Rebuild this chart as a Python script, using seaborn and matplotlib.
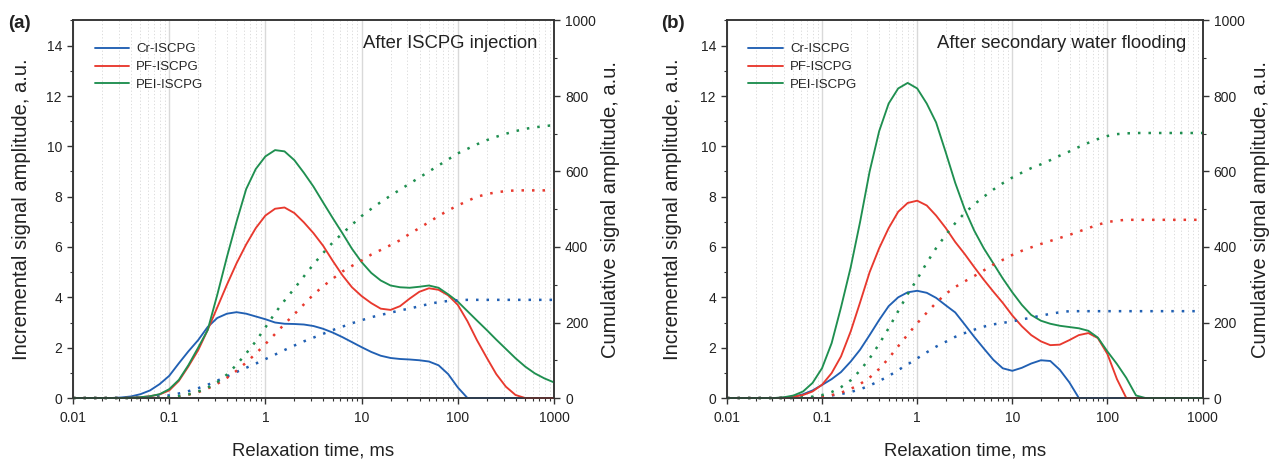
import numpy as np
import matplotlib
matplotlib.use('Agg')
import matplotlib.pyplot as plt
import seaborn as sns
from matplotlib.ticker import LogLocator, MultipleLocator, FuncFormatter

# relaxation time grid, ms
t_ms = [0.01, 0.0126, 0.0158, 0.02, 0.0251, 0.0316, 0.0398, 0.0501, 0.0631, 0.0794,
        0.1, 0.126, 0.158, 0.2, 0.251, 0.316, 0.398, 0.501, 0.631, 0.794,
        1, 1.26, 1.58, 2, 2.51, 3.16, 3.98, 5.01, 6.31, 7.94,
        10, 12.6, 15.8, 20, 25.1, 31.6, 39.8, 50.1, 63.1, 79.4,
        100, 126, 158, 200, 251, 316, 398, 501, 631, 794, 1000]

series_names = ['Cr-ISCPG', 'PF-ISCPG', 'PEI-ISCPG']

# (a) After ISCPG injection - incremental
a_cr = [0, 0, 0, 0, 0, 0.02, 0.06, 0.15, 0.3, 0.55,
        0.88, 1.38, 1.85, 2.3, 2.82, 3.18, 3.35, 3.41, 3.35, 3.24,
        3.13, 3.0, 2.95, 2.94, 2.92, 2.86, 2.75, 2.6, 2.42, 2.22,
        2.02, 1.83, 1.68, 1.59, 1.55, 1.53, 1.5, 1.45, 1.3, 0.95,
        0.42, 0, 0, 0, 0, 0, 0, 0, 0, 0, 0]
a_pf = [0, 0, 0, 0, 0, 0, 0.01, 0.03, 0.07, 0.14,
        0.3, 0.68, 1.25, 1.9, 2.7, 3.6, 4.5, 5.35, 6.1, 6.75,
        7.25, 7.52, 7.57, 7.35, 6.98, 6.55, 6.05, 5.45, 4.88, 4.4,
        4.05, 3.77, 3.55, 3.5, 3.65, 3.95, 4.22, 4.36, 4.3, 4.08,
        3.7, 3.05, 2.3, 1.6, 0.95, 0.45, 0.12, 0, 0, 0, 0]
a_pei = [0, 0, 0, 0, 0, 0, 0.01, 0.03, 0.07, 0.15,
         0.35, 0.72, 1.3, 2.0, 2.7, 4.1, 5.6, 7.0, 8.3, 9.1,
         9.6, 9.85, 9.8, 9.45, 8.95, 8.4, 7.77, 7.15, 6.55, 5.93,
         5.4, 4.97, 4.67, 4.47, 4.4, 4.38, 4.42, 4.47, 4.38, 4.12,
         3.83, 3.45, 3.08, 2.7, 2.32, 1.95, 1.58, 1.25, 0.98, 0.78, 0.62]

# (a) cumulative
a_cr_cum = [0, 0, 0, 0, 0, 0.1, 0.3, 0.8, 2, 4,
            7, 12, 18, 26, 35, 46, 57, 69, 80, 91,
            103, 115, 127, 139, 150, 160, 170, 180, 189, 198,
            206, 214, 220, 226, 232, 237, 243, 249, 254, 257,
            259, 260, 260, 260, 260, 260, 260, 260, 260, 260, 260]
a_pf_cum = [0, 0, 0, 0, 0, 0, 0.04, 0.14, 0.4, 0.9,
            1.9, 4.3, 8.7, 15.4, 25, 37.6, 53.4, 72, 94, 117.5,
            143, 169.5, 196, 222, 248, 274, 296, 316, 335, 350,
            364, 380, 392, 405, 418, 435, 450, 466, 482, 497,
            510, 522, 533, 540, 545, 548, 550, 550, 550, 550, 550]
a_pei_cum = [0, 0, 0, 0, 0, 0, 0.04, 0.15, 0.4, 1.0,
             2.2, 4.9, 9.6, 17, 27, 42, 62, 88, 118, 150,
             187, 225, 258, 290, 322, 354, 384, 412, 436, 459,
             482, 501, 519, 536, 552, 568, 584, 600, 616, 632,
             648, 660, 672, 683, 692, 700, 707, 713, 717, 720, 723]

# (b) After secondary water flooding - incremental
b_cr = [0, 0, 0, 0, 0, 0, 0.01, 0.05, 0.15, 0.3,
        0.52, 0.75, 1.03, 1.45, 1.92, 2.5, 3.1, 3.65, 4.0, 4.2,
        4.26, 4.18, 3.98, 3.68, 3.4, 2.92, 2.43, 1.97, 1.52, 1.18,
        1.08, 1.2, 1.37, 1.5, 1.47, 1.12, 0.62, 0, 0, 0,
        0, 0, 0, 0, 0, 0, 0, 0, 0, 0, 0]
b_pf = [0, 0, 0, 0, 0, 0, 0.01, 0.05, 0.12, 0.26,
        0.53, 0.99, 1.65, 2.65, 3.8, 5.0, 5.95, 6.75, 7.4, 7.75,
        7.84, 7.65, 7.25, 6.75, 6.2, 5.72, 5.2, 4.7, 4.23, 3.78,
        3.28, 2.85, 2.5, 2.25, 2.1, 2.12, 2.3, 2.5, 2.58, 2.38,
        1.75, 0.75, 0, 0, 0, 0, 0, 0, 0, 0, 0]
b_pei = [0, 0, 0, 0, 0, 0, 0.03, 0.1, 0.26, 0.6,
         1.19, 2.18, 3.6, 5.2, 7.0, 9.0, 10.6, 11.7, 12.3, 12.52,
         12.3, 11.7, 10.95, 9.75, 8.55, 7.5, 6.65, 5.95, 5.35, 4.75,
         4.2, 3.7, 3.3, 3.07, 2.95, 2.87, 2.82, 2.77, 2.67, 2.4,
         1.85, 1.35, 0.8, 0.1, 0, 0, 0, 0, 0, 0, 0]

# (b) cumulative
b_cr_cum = [0, 0, 0, 0, 0, 0, 0.04, 0.2, 0.7, 1.8,
            3.8, 6.7, 10.5, 16, 23, 33, 45, 58, 74, 89,
            105, 121, 136, 149, 162, 172, 181, 189, 195, 199,
            203, 208, 213, 218, 223, 227, 230, 230, 230, 230,
            230, 230, 230, 230, 230, 230, 230, 230, 230, 230, 230]
b_pf_cum = [0, 0, 0, 0, 0, 0, 0.04, 0.25, 0.7, 1.7,
            3.7, 7.5, 14, 24, 37, 54, 77, 105, 137, 168,
            198, 226, 252, 276, 294, 309, 323, 338, 353, 366,
            379, 390, 399, 408, 416, 424, 432, 441, 450, 459,
            466, 470, 472, 472, 472, 472, 472, 472, 472, 472, 472]
b_pei_cum = [0, 0, 0, 0, 0, 0, 0.1, 0.5, 1.4, 3.6,
             7.8, 15.7, 28.7, 47, 73, 105, 143, 185, 230, 275,
             315, 358, 397, 432, 463, 490, 513, 533, 552, 569,
             584, 597, 609, 619, 630, 642, 653, 665, 676, 686,
             694, 699, 701, 702, 702, 702, 702, 702, 702, 702, 702]

colors = ['#2160b3', '#e8392e', '#1f8f50']
text_c = '#222222'

sns.set_style('ticks')
plt.rcParams['font.family'] = ['Liberation Sans', 'DejaVu Sans']
plt.rcParams['axes.edgecolor'] = '#333333'
plt.rcParams['axes.linewidth'] = 1.1

fig = plt.figure(figsize=(12.71, 4.61), dpi=100)
W, H = 1271, 461


def make_panel(x0, x1, incs, cums, title, tag, tag_x, ylab_x, y2lab_x):
    ax = fig.add_axes([x0 / W, 1 - 398 / H, (x1 - x0) / W, (398 - 20.5) / H])
    ax2 = ax.twinx()
    for name, vals, cv, c in zip(series_names, incs, cums, colors):
        sns.lineplot(x=t_ms, y=vals, ax=ax, color=c, linewidth=1.35,
                     label=name, clip_on=False, zorder=3)
        sns.lineplot(x=t_ms, y=cv, ax=ax2, color=c, linewidth=1.8,
                     linestyle=(0, (1, 3.2)), legend=False, clip_on=False)
    ax.set_xscale('log')
    ax.set_xlim(0.01, 1000)
    ax.set_ylim(0, 15)
    ax2.set_ylim(0, 1000)
    ax.xaxis.set_major_locator(LogLocator(base=10, numticks=12))
    ax.xaxis.set_minor_locator(LogLocator(base=10, subs=np.arange(2, 10), numticks=12))
    ax.xaxis.set_major_formatter(FuncFormatter(lambda v, p: '%g' % v))
    ax.yaxis.set_minor_locator(MultipleLocator(1))
    ax2.yaxis.set_major_locator(MultipleLocator(200))
    ax2.yaxis.set_minor_locator(MultipleLocator(100))
    ax.set_yticks([0, 2, 4, 6, 8, 10, 12, 14])
    ax.grid(which='major', axis='x', color='#d9d9d9', linewidth=1.0, linestyle='-')
    ax.grid(which='minor', axis='x', color='#d6d6d6', linewidth=0.6, linestyle=(0, (1.5, 2.5)))
    ax.set_axisbelow(True)
    for a in (ax, ax2):
        a.tick_params(which='major', direction='out', length=4, width=1.0,
                      labelsize=10, colors='#333333', labelcolor=text_c, pad=4)
        a.tick_params(which='minor', direction='out', length=2.3, width=0.8, colors='#333333')
        a.set_xlabel('')
        a.set_ylabel('')
    ax.tick_params(axis='x', which='major', pad=5)
    for s in ax2.spines.values():
        s.set_visible(True)
    ax.legend(loc='upper left', bbox_to_anchor=(0.045, 0.94), frameon=False,
              fontsize=9.5, handlelength=2.6, handletextpad=0.55,
              labelspacing=0.42, borderaxespad=0, borderpad=0)
    ax.text(0.966, 0.94, title, transform=ax.transAxes, ha='right', va='center',
            fontsize=13.3, color=text_c)
    fig.text(tag_x / W, 1 - 23 / H, tag, fontsize=13.5, fontweight='bold',
             ha='left', va='center', color=text_c)
    fig.text(ylab_x / W, 1 - 209 / H, 'Incremental signal amplitude, a.u.',
             rotation=90, ha='center', va='center', fontsize=14.5, color=text_c)
    fig.text(y2lab_x / W, 1 - 209 / H, 'Cumulative signal amplitude, a.u.',
             rotation=90, ha='center', va='center', fontsize=14.5, color=text_c)
    fig.text((x0 + x1) / 2 / W, 1 - 451 / H, 'Relaxation time, ms',
             ha='center', va='center', fontsize=13.3, color=text_c)
    return ax, ax2


make_panel(73, 554, [a_cr, a_pf, a_pei], [a_cr_cum, a_pf_cum, a_pei_cum],
           'After ISCPG injection', '(a)', 8, 22, 611)
make_panel(727, 1202.5, [b_cr, b_pf, b_pei], [b_cr_cum, b_pf_cum, b_pei_cum],
           'After secondary water flooding', '(b)', 661, 673, 1261)

fig.savefig('out.png', dpi=100)
